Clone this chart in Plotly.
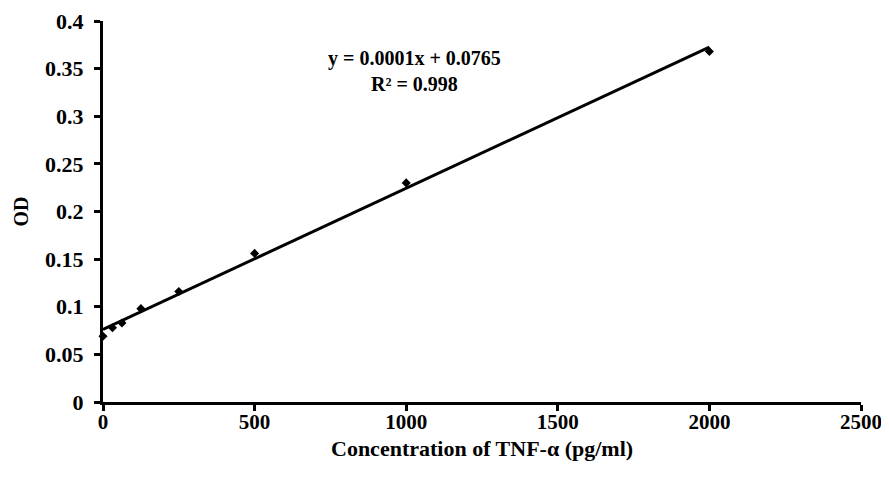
import numpy as np
import plotly.graph_objects as go

conc = [0, 31.25, 62.5, 125, 250, 500, 1000, 2000]
od = [0.069, 0.078, 0.083, 0.098, 0.116, 0.156, 0.230, 0.368]
x_ticks = [0, 500, 1000, 1500, 2000, 2500]
y_ticks = [0, 0.05, 0.1, 0.15, 0.2, 0.25, 0.3, 0.35, 0.4]
y_tick_labels = ["0", "0.05", "0.1", "0.15", "0.2", "0.25", "0.3", "0.35", "0.4"]
equation_text = "y = 0.0001x + 0.0765<br>R² = 0.998"
x_title = "Concentration of TNF-α (pg/ml)"

slope, intercept = np.polyfit(conc, od, 1)
fit_x = [min(conc), max(conc)]
fit_y = [slope * v + intercept for v in fit_x]

font = "Liberation Serif, Times New Roman, serif"

fig = go.Figure()
fig.add_trace(go.Scatter(x=conc, y=od, mode="markers",
                         marker=dict(symbol="diamond", size=7, color="black"),
                         showlegend=False, cliponaxis=False))
fig.add_trace(go.Scatter(x=fit_x, y=fit_y, mode="lines",
                         line=dict(color="black", width=3),
                         showlegend=False))

fig.add_annotation(x=1026, y=0.3475, xref="x", yref="y", text="<b>" + equation_text + "</b>",
                   showarrow=False, align="center",
                   font=dict(family=font, size=20, color="black"))
fig.add_annotation(x=0.5, y=0, xref="paper", yref="paper", yanchor="top", yshift=-32,
                   text="<b>" + x_title + "</b>", showarrow=False,
                   font=dict(family=font, size=22, color="black"))

fig.update_layout(
    width=889, height=479,
    margin=dict(l=95, r=36, t=13, b=85, autoexpand=False),
    plot_bgcolor="white", paper_bgcolor="white",
    font=dict(family=font, size=20, color="black"),
    xaxis=dict(range=[0, 2500], tickvals=x_ticks, showline=True, linecolor="black",
               linewidth=3, ticks="outside", ticklen=6, tickwidth=3, tickcolor="black",
               showgrid=False, zeroline=False, automargin=False, ticklabelstandoff=-7,
               tickfont=dict(family=font, size=21, weight="bold")),
    yaxis=dict(range=[0, 0.4], tickvals=y_ticks, ticktext=y_tick_labels, showline=True,
               linecolor="black", linewidth=3, ticks="outside", ticklen=6, tickwidth=3,
               tickcolor="black", showgrid=False, zeroline=False, ticklabelstandoff=6,
               automargin=False,
               tickfont=dict(family=font, size=22, weight="bold"),
               title=dict(text="<b>OD</b>", standoff=12, font=dict(family=font, size=20))),
)

fig.write_html("out.html")
